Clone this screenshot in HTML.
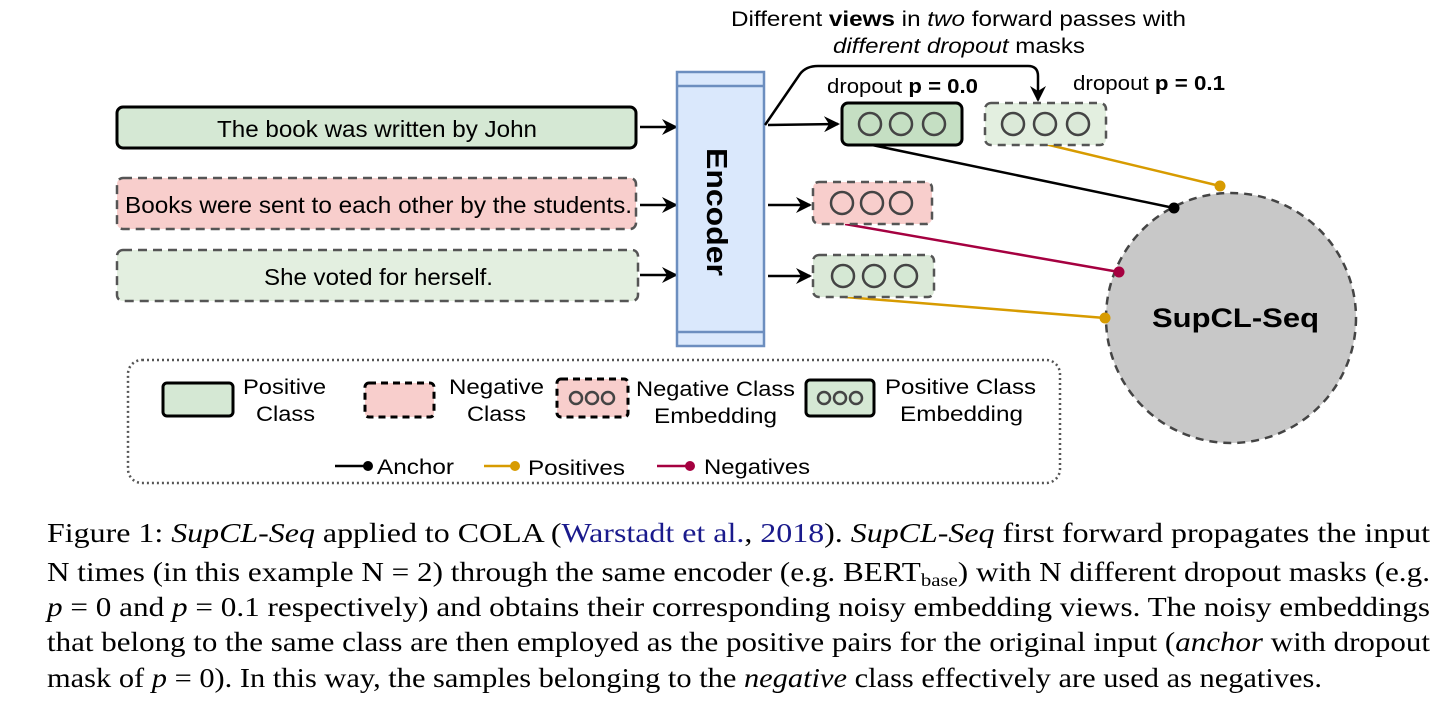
<!DOCTYPE html>
<html><head><meta charset="utf-8"><style>
html,body{margin:0;padding:0;background:#fff;}
svg{display:block;}
.s{font-family:"Liberation Sans",sans-serif;}
.c{font-family:"Liberation Serif",serif;font-size:27px;fill:#000;}
</style></head><body>
<svg width="1439" height="704" viewBox="0 0 1439 704" xmlns="http://www.w3.org/2000/svg">
<defs>
<marker id="ah2" markerWidth="16" markerHeight="16" refX="14" refY="8" orient="auto" markerUnits="userSpaceOnUse"><path d="M0,0 L16,8 L0,16 L5,8 Z" fill="#000"/></marker>
</defs>
<!-- sentence boxes -->
<rect x="117" y="107" width="519" height="41" rx="6" fill="#d5e8d4" stroke="#000" stroke-width="3"/>
<text x="217" y="137" class="s" font-size="23" textLength="320" lengthAdjust="spacingAndGlyphs">The book was written by John</text>
<rect x="117" y="178" width="519" height="51" rx="6" fill="#f8cecc" stroke="#555" stroke-width="2.5" stroke-dasharray="9,6"/>
<text x="125" y="213" class="s" font-size="23" textLength="507" lengthAdjust="spacingAndGlyphs">Books were sent to each other by the students.</text>
<rect x="117" y="250" width="521" height="51" rx="6" fill="#e3efe0" stroke="#555" stroke-width="2.5" stroke-dasharray="9,6"/>
<text x="264" y="285" class="s" font-size="23" textLength="229" lengthAdjust="spacingAndGlyphs">She voted for herself.</text>
<g stroke="#000" stroke-width="2.5" fill="none">
<line x1="640" y1="127" x2="676" y2="127" marker-end="url(#ah2)"/>
<line x1="640" y1="205" x2="676" y2="205" marker-end="url(#ah2)"/>
<line x1="640" y1="275" x2="676" y2="275" marker-end="url(#ah2)"/>
</g>
<!-- encoder -->
<rect x="677" y="72" width="87" height="274" fill="#dae8fc" stroke="#6c8ebf" stroke-width="2.5"/>
<line x1="677" y1="86" x2="764" y2="86" stroke="#6c8ebf" stroke-width="2.5"/>
<line x1="677" y1="332" x2="764" y2="332" stroke="#6c8ebf" stroke-width="2.5"/>
<text transform="translate(707,148) rotate(90)" class="s" font-size="29" font-weight="bold" textLength="128" lengthAdjust="spacingAndGlyphs">Encoder</text>
<!-- arrows out -->
<g stroke="#000" stroke-width="2.5" fill="none">
<line x1="768" y1="125" x2="838" y2="124" marker-end="url(#ah2)"/>
<line x1="768" y1="205" x2="810" y2="205" marker-end="url(#ah2)"/>
<line x1="768" y1="276" x2="810" y2="276" marker-end="url(#ah2)"/>
<path d="M765,125 L800,74 Q806,66 818,66 L1028,66 Q1038,66 1038,76 L1038,100" marker-end="url(#ah2)"/>
</g>
<text x="731" y="26" class="s" font-size="21" textLength="455" lengthAdjust="spacingAndGlyphs">Different <tspan font-weight="bold">views</tspan> in <tspan font-style="italic">two</tspan> forward passes with</text>
<text x="833" y="53" class="s" font-size="21" textLength="252" lengthAdjust="spacingAndGlyphs"><tspan font-style="italic">different dropout</tspan> masks</text>
<text x="827" y="93" class="s" font-size="20" textLength="151" lengthAdjust="spacingAndGlyphs">dropout <tspan font-weight="bold">p = 0.0</tspan></text>
<text x="1073" y="90" class="s" font-size="20" textLength="152" lengthAdjust="spacingAndGlyphs">dropout <tspan font-weight="bold">p = 0.1</tspan></text>
<!-- connector lines -->
<line x1="872" y1="145" x2="1174" y2="208" stroke="#000" stroke-width="2.5"/>
<line x1="1045" y1="144" x2="1220" y2="186" stroke="#d79b00" stroke-width="2.5"/>
<line x1="845" y1="224" x2="1119" y2="272" stroke="#a50040" stroke-width="2.5"/>
<line x1="845" y1="297" x2="1105" y2="318" stroke="#d79b00" stroke-width="2.5"/>
<!-- embeddings -->
<rect x="842" y="103" width="120" height="42" rx="6" fill="#c5dfc3" stroke="#000" stroke-width="3"/>
<rect x="985" y="103" width="121" height="42" rx="6" fill="#e3efe0" stroke="#555" stroke-width="2.5" stroke-dasharray="8,6"/>
<rect x="813" y="182" width="119" height="42" rx="6" fill="#f8cecc" stroke="#555" stroke-width="2.5" stroke-dasharray="8,6"/>
<rect x="813" y="255" width="121" height="42" rx="6" fill="#dbe9d8" stroke="#555" stroke-width="2.5" stroke-dasharray="8,6"/>
<g stroke="#444" stroke-width="2.5">
<circle cx="870" cy="124" r="11" fill="#c5dfc3"/><circle cx="901" cy="124" r="11" fill="#c5dfc3"/><circle cx="934" cy="124" r="11" fill="#c5dfc3"/>
<circle cx="1013" cy="124" r="11" fill="#dbe9d8"/><circle cx="1045" cy="124" r="11" fill="#dbe9d8"/><circle cx="1078" cy="124" r="11" fill="#dbe9d8"/>
<circle cx="842" cy="203" r="11" fill="#f8cecc"/><circle cx="872" cy="203" r="11" fill="#f8cecc"/><circle cx="901" cy="203" r="11" fill="#f8cecc"/>
<circle cx="843" cy="276" r="11" fill="#d5e8d4"/><circle cx="874" cy="276" r="11" fill="#d5e8d4"/><circle cx="906" cy="276" r="11" fill="#d5e8d4"/>
</g>
<!-- SupCL circle -->
<circle cx="1231" cy="318" r="125" fill="#c8c8c8" stroke="#444" stroke-width="2.5" stroke-dasharray="8,6"/>
<text x="1152" y="327" class="s" font-size="27" font-weight="bold" textLength="167" lengthAdjust="spacingAndGlyphs">SupCL-Seq</text>
<circle cx="1174" cy="208" r="5.5" fill="#000"/>
<circle cx="1220" cy="186" r="5.5" fill="#d79b00"/>
<circle cx="1119" cy="272" r="5.5" fill="#a50040"/>
<circle cx="1105" cy="318" r="5.5" fill="#d79b00"/>
<!-- legend -->
<rect x="128" y="360" width="932" height="123" rx="14" fill="none" stroke="#555" stroke-width="2.5" stroke-dasharray="2,3"/>
<rect x="163" y="383" width="70" height="33" rx="4" fill="#d5e8d4" stroke="#000" stroke-width="3"/>
<text x="243" y="394" class="s" font-size="21" textLength="83" lengthAdjust="spacingAndGlyphs">Positive</text>
<text x="256" y="421" class="s" font-size="21" textLength="59" lengthAdjust="spacingAndGlyphs">Class</text>
<rect x="365" y="383" width="69" height="34" rx="4" fill="#f8cecc" stroke="#000" stroke-width="3" stroke-dasharray="7,5"/>
<text x="449" y="394" class="s" font-size="21" textLength="95" lengthAdjust="spacingAndGlyphs">Negative</text>
<text x="467" y="421" class="s" font-size="21" textLength="59" lengthAdjust="spacingAndGlyphs">Class</text>
<rect x="557" y="379" width="71" height="38" rx="4" fill="#f8cecc" stroke="#000" stroke-width="3" stroke-dasharray="7,5"/>
<g stroke="#444" stroke-width="2.5" fill="none"><circle cx="576" cy="398" r="6"/><circle cx="592" cy="398" r="6"/><circle cx="608" cy="398" r="6"/></g>
<text x="636" y="396" class="s" font-size="21" textLength="159" lengthAdjust="spacingAndGlyphs">Negative Class</text>
<text x="654" y="423" class="s" font-size="21" textLength="123" lengthAdjust="spacingAndGlyphs">Embedding</text>
<rect x="806" y="380" width="68" height="36" rx="4" fill="#d5e8d4" stroke="#000" stroke-width="3"/>
<g stroke="#444" stroke-width="2.5" fill="none"><circle cx="824" cy="398" r="6"/><circle cx="840" cy="398" r="6"/><circle cx="856" cy="398" r="6"/></g>
<text x="885" y="394" class="s" font-size="21" textLength="151" lengthAdjust="spacingAndGlyphs">Positive Class</text>
<text x="900" y="421" class="s" font-size="21" textLength="123" lengthAdjust="spacingAndGlyphs">Embedding</text>
<line x1="335" y1="466" x2="368" y2="466" stroke="#000" stroke-width="2.5"/><circle cx="368" cy="466" r="5" fill="#000"/>
<text x="377" y="474" class="s" font-size="21" textLength="77" lengthAdjust="spacingAndGlyphs">Anchor</text>
<line x1="484" y1="466" x2="515" y2="466" stroke="#d79b00" stroke-width="2.5"/><circle cx="515" cy="466" r="5" fill="#d79b00"/>
<text x="528" y="475" class="s" font-size="21" textLength="97" lengthAdjust="spacingAndGlyphs">Positives</text>
<line x1="657" y1="466" x2="690" y2="466" stroke="#a50040" stroke-width="2.5"/><circle cx="690" cy="466" r="5" fill="#a50040"/>
<text x="704" y="474" class="s" font-size="21" textLength="106" lengthAdjust="spacingAndGlyphs">Negatives</text>
<!-- caption -->
<text x="47" y="542" class="c" textLength="1383" lengthAdjust="spacingAndGlyphs">Figure 1: <tspan font-style="italic">SupCL-Seq</tspan> applied to COLA (<tspan fill="#1a1a8c">Warstadt et al.</tspan>, <tspan fill="#1a1a8c">2018</tspan>). <tspan font-style="italic">SupCL-Seq</tspan> first forward propagates the input</text>
<text x="47" y="581" class="c" textLength="1383" lengthAdjust="spacingAndGlyphs">N times (in this example N = 2) through the same encoder (e.g. BERT<tspan font-size="18" dy="5">base</tspan><tspan dy="-5">) with N different dropout masks (e.g.</tspan></text>
<text x="47" y="616" class="c" textLength="1383" lengthAdjust="spacingAndGlyphs"><tspan font-style="italic">p</tspan> = 0 and <tspan font-style="italic">p</tspan> = 0.1 respectively) and obtains their corresponding noisy embedding views. The noisy embeddings</text>
<text x="47" y="651" class="c" textLength="1383" lengthAdjust="spacingAndGlyphs">that belong to the same class are then employed as the positive pairs for the original input (<tspan font-style="italic">anchor</tspan> with dropout</text>
<text x="47" y="687" class="c" textLength="1275" lengthAdjust="spacingAndGlyphs">mask of <tspan font-style="italic">p</tspan> = 0). In this way, the samples belonging to the <tspan font-style="italic">negative</tspan> class effectively are used as negatives.</text>
</svg>
</body></html>
